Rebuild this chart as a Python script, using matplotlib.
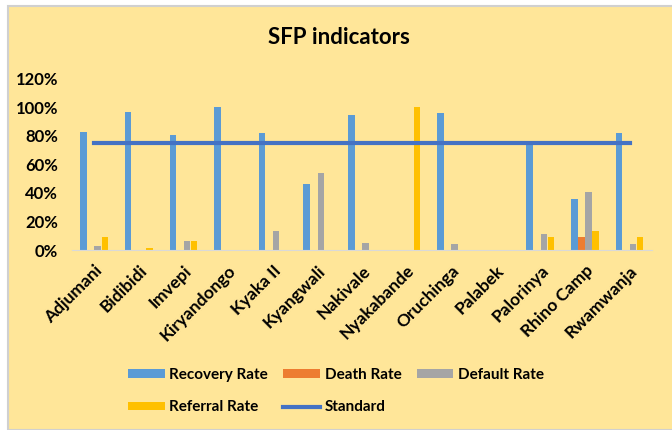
import numpy as np
import matplotlib
matplotlib.use("Agg")
import matplotlib.pyplot as plt
from matplotlib.patches import Rectangle
from matplotlib.ticker import PercentFormatter

plt.rcParams['font.family'] = ['Lato', 'DejaVu Sans']

# settlements and rates (fractions)
sites = ["Adjumani", "Bidibidi", "Imvepi", "Kiryandongo", "Kyaka II", "Kyangwali",
         "Nakivale", "Nyakabande", "Oruchinga", "Palabek", "Palorinya",
         "Rhino Camp", "Rwamwanja"]
recovery = [0.83, 0.97, 0.81, 1.00, 0.82, 0.46, 0.95, 0.0, 0.96, 0.0, 0.75, 0.36, 0.82]
death = [0, 0, 0, 0, 0, 0, 0, 0, 0, 0, 0, 0.09, 0]
default = [0.03, 0, 0.06, 0, 0.13, 0.54, 0.05, 0, 0.04, 0, 0.11, 0.41, 0.04]
referral = [0.09, 0.015, 0.06, 0, 0, 0, 0, 1.00, 0, 0, 0.09, 0.13, 0.09]
standard = [0.75] * len(sites)

series = [("Recovery Rate", recovery, "#5B9BD5"),
          ("Death Rate", death, "#ED7D31"),
          ("Default Rate", default, "#A5A5A5"),
          ("Referral Rate", referral, "#FFC000")]

bg = "#FFE699"

fig = plt.figure(figsize=(6.72, 4.30), dpi=100, facecolor="white")
fig.patches.append(Rectangle((8 / 672, 0), 1, 1 - 6 / 430, transform=fig.transFigure,
                             facecolor=bg, edgecolor="#D0D0D0", linewidth=1.5, zorder=-1))

ax = fig.add_axes([0.107, 0.4186, 0.863, 0.3977])
ax.patch.set_alpha(0)

x = np.arange(len(sites))
w = 0.158
handles = {}
for i, (name, vals, col) in enumerate(series):
    handles[name] = ax.bar(x + (i - 1.5) * w, vals, width=w * 0.92, color=col,
                           label=name, zorder=2)
handles["Standard"], = ax.plot(x, standard, color="#4472C4", linewidth=3,
                               label="Standard", zorder=3)

ax.set_xlim(-0.5, len(sites) - 0.5)
ax.set_ylim(0, 1.2)
ax.set_yticks(np.arange(0, 1.21, 0.2))
ax.yaxis.set_major_formatter(PercentFormatter(1.0, decimals=0))
ax.set_xticks(x)
ax.set_xticklabels(sites, rotation=45, ha="right", rotation_mode="anchor")
ax.tick_params(axis="x", length=0, pad=9, labelsize=12.5)
ax.tick_params(axis="y", length=0, pad=10, labelsize=12)
plt.setp(ax.get_xticklabels() + ax.get_yticklabels(), fontweight="bold")
for s in ["top", "right", "left"]:
    ax.spines[s].set_visible(False)
ax.spines["bottom"].set_color("#D9D9D9")

fig.text(0.505, 0.912, "SFP indicators", ha="center", va="center",
         fontsize=16, fontweight="bold")

# legend fills column by column, so order gives rows Recovery/Death/Default, Referral/Standard
order = ["Recovery Rate", "Referral Rate", "Death Rate", "Standard", "Default Rate"]
fig.legend([handles[k] for k in order], order,
           loc="center", bbox_to_anchor=(0.5, 0.09), ncol=3, frameon=False,
           prop={"weight": "bold", "size": 11}, handlelength=2.4, handleheight=0.5,
           handletextpad=0.3, columnspacing=1.0, labelspacing=1.2)

fig.savefig("out.png", dpi=100, facecolor="white")
